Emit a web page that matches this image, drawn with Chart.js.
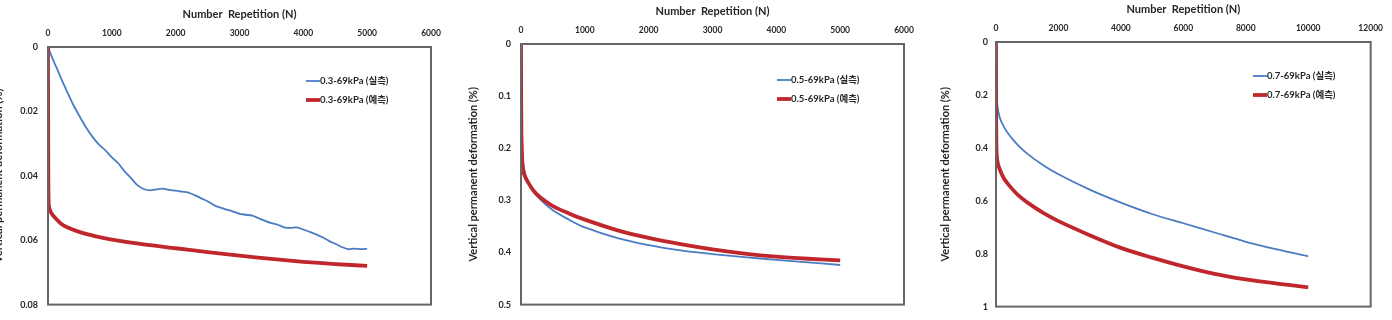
<!DOCTYPE html>
<html>
<head>
<meta charset="utf-8">
<script src="https://cdn.jsdelivr.net/npm/chart.js@4/dist/chart.umd.min.js"></script>
<style>
    html, body { margin: 0; padding: 0; background: #fff; overflow: hidden; }
    .panel { position: absolute; top: 0; height: 320px; }
</style>
</head>
<body>
<div class="panel" style="left:-8px;width:472px"><canvas id="c1"></canvas></div>
<div class="panel" style="left:464px;width:464px"><canvas id="c2"></canvas></div>
<div class="panel" style="left:928px;width:464px"><canvas id="c3"></canvas></div>
<script>
// Panel 1: 0.3-69kPa
const n1Measured = [0, 50, 100, 150, 200, 300, 400, 500, 600, 700, 800, 900, 1000, 1100, 1200, 1300, 1400, 1500, 1600, 1700, 1800, 1900, 2000, 2100, 2200, 2300, 2400, 2500, 2600, 2700, 2800, 2900, 3000, 3100, 3200, 3300, 3400, 3500, 3600, 3700, 3800, 3900, 4000, 4100, 4200, 4300, 4400, 4500, 4600, 4700, 4800, 4900, 5000];
const v1Measured = [0, 0.0025, 0.0049, 0.0071, 0.0095, 0.0139, 0.0181, 0.0217, 0.0251, 0.0280, 0.0303, 0.0321, 0.0343, 0.0361, 0.0386, 0.0407, 0.0429, 0.0441, 0.0445, 0.0442, 0.0440, 0.0444, 0.0446, 0.0449, 0.0452, 0.0460, 0.0470, 0.0479, 0.0491, 0.0499, 0.0505, 0.0511, 0.0518, 0.0521, 0.0524, 0.0532, 0.0540, 0.0547, 0.0552, 0.0560, 0.0562, 0.0560, 0.0567, 0.0574, 0.0582, 0.0591, 0.0602, 0.0611, 0.0621, 0.0628, 0.0626, 0.0628, 0.0626];
const n1Predicted = [0, 2, 5, 10, 20, 50, 100, 200, 300, 500, 750, 1000, 1500, 2000, 2500, 3000, 3500, 4000, 4500, 5000];
const v1Predicted = [0, 0.020, 0.040, 0.0485, 0.0500, 0.0515, 0.0528, 0.0548, 0.0560, 0.0575, 0.0588, 0.0598, 0.0613, 0.0625, 0.0637, 0.0648, 0.0658, 0.0667, 0.0674, 0.0680];

// Panel 2: 0.5-69kPa
const n2Measured = [5, 25, 50, 100, 200, 300, 500, 750, 1000, 1500, 2000, 2500, 3000, 3500, 4000, 4500, 5000];
const v2Measured = [0.19, 0.215, 0.240, 0.262, 0.283, 0.298, 0.319, 0.337, 0.352, 0.372, 0.386, 0.396, 0.403, 0.409, 0.414, 0.419, 0.424];
const n2Predicted = [0, 2, 5, 10, 25, 50, 100, 200, 300, 500, 750, 1000, 1500, 2000, 2500, 3000, 3500, 4000, 4500, 5000];
const v2Predicted = [0, 0.08, 0.15, 0.19, 0.235, 0.250, 0.263, 0.282, 0.294, 0.311, 0.325, 0.337, 0.357, 0.372, 0.384, 0.394, 0.402, 0.408, 0.412, 0.415];

// Panel 3: 0.7-69kPa
const n3Measured = [20, 50, 125, 250, 400, 700, 1000, 1500, 2000, 3000, 4000, 5000, 6000, 7000, 8000, 9000, 10000];
const v3Measured = [0.21, 0.245, 0.287, 0.320, 0.348, 0.390, 0.422, 0.465, 0.500, 0.558, 0.607, 0.650, 0.685, 0.720, 0.755, 0.784, 0.810];
const n3Predicted = [0, 3, 10, 20, 50, 125, 250, 400, 700, 1000, 1500, 2000, 3000, 4000, 5000, 6000, 7000, 8000, 9000, 10000];
const v3Predicted = [0, 0.20, 0.36, 0.42, 0.455, 0.483, 0.515, 0.539, 0.578, 0.606, 0.645, 0.677, 0.730, 0.778, 0.815, 0.848, 0.876, 0.897, 0.913, 0.927];

const xTitle = 'Number  Repetition (N)';
const yTitle = 'Vertical permanent deformation (%)';
const FONT = "Lato, 'Noto Sans CJK KR', sans-serif";
const TEXT = '#262626';
const BLUE = '#4a7cc2';
const RED = '#c0272d';

function points(ns, vs) {
    return ns.map((n, i) => ({ x: n, y: vs[i] }));
}

// frame round the plot area + legend inside it
const framePlugin = {
    id: 'frame',
    afterDraw(chart, args, opts) {
        const ctx = chart.ctx;
        const a = chart.chartArea;
        ctx.save();
        ctx.strokeStyle = '#666';
        ctx.lineWidth = 2;
        ctx.strokeRect(a.left, a.top, a.right - a.left, a.bottom - a.top);

        ctx.font = 'bold 9.5px ' + FONT;
        ctx.textBaseline = 'middle';
        ctx.fillStyle = TEXT;
        chart.data.datasets.forEach((ds, i) => {
            const y = opts.y + i * 19;
            ctx.strokeStyle = ds.borderColor;
            ctx.lineWidth = ds.borderWidth;
            ctx.beginPath();
            ctx.moveTo(opts.x, y);
            ctx.lineTo(opts.x + 14, y);
            ctx.stroke();
            ctx.fillText(ds.label, opts.x + 14, y);
        });
        ctx.restore();
    }
};

function makeChart(id, cfg) {
    const ctx = document.getElementById(id).getContext('2d');
    return new Chart(ctx, {
        type: 'line',
        data: {
            datasets: [
                {
                    label: cfg.name + ' (실측)',
                    data: points(cfg.nM, cfg.vM),
                    borderColor: BLUE,
                    borderWidth: 1.8,
                    pointRadius: 0,
                    tension: 0.3,
                    order: 1
                },
                {
                    label: cfg.name + ' (예측)',
                    data: points(cfg.nP, cfg.vP),
                    borderColor: RED,
                    borderWidth: 3.8,
                    pointRadius: 0,
                    tension: 0.3,
                    order: 0
                }
            ]
        },
        options: {
            responsive: true,
            maintainAspectRatio: false,
            animation: false,
            layout: { padding: { left: 0, top: 0, right: cfg.padRight, bottom: cfg.padBottom } },
            plugins: {
                legend: { display: false },
                tooltip: { enabled: false },
                frame: { x: cfg.legendX, y: cfg.legendY }
            },
            scales: {
                x: {
                    type: 'linear',
                    position: 'top',
                    min: 0,
                    max: cfg.xMax,
                    grid: { display: false, drawTicks: false },
                    border: { display: false },
                    ticks: {
                        stepSize: cfg.xStep,
                        padding: 9,
                        maxRotation: 0,
                        color: TEXT,
                        font: { family: FONT, size: 8.5, weight: 'bold' },
                        callback: v => String(v)
                    },
                    title: {
                        display: true,
                        text: xTitle,
                        color: TEXT,
                        padding: { top: cfg.xTitlePad, bottom: 0 },
                        font: { family: FONT, size: 11, weight: 'bold' }
                    },
                    afterFit(s) { s.height = cfg.top; }
                },
                y: {
                    type: 'linear',
                    reverse: true,
                    min: 0,
                    max: cfg.yMax,
                    grid: { display: false, drawTicks: false },
                    border: { display: false },
                    ticks: {
                        stepSize: cfg.yStep,
                        padding: cfg.yTickPad,
                        color: TEXT,
                        font: { family: FONT, size: 9, weight: 'bold' },
                        callback: v => String(Math.round(v * 100) / 100)
                    },
                    title: {
                        display: true,
                        text: yTitle,
                        color: TEXT,
                        padding: { top: cfg.yTitlePad, bottom: 0 },
                        font: { family: FONT, size: 11, weight: 'bold' }
                    },
                    afterFit(s) { s.width = cfg.left; }
                }
            }
        },
        plugins: [framePlugin]
    });
}

makeChart('c1', {
    name: '0.3-69kPa',
    nM: n1Measured, vM: v1Measured, nP: n1Predicted, vP: v1Predicted,
    xMax: 6000, xStep: 1000, yMax: 0.08, yStep: 0.02,
    left: 56, top: 47, padRight: 33, padBottom: 5,
    xTitlePad: 8, yTitlePad: 0, yTickPad: 10,
    legendX: 314, legendY: 81
});

makeChart('c2', {
    name: '0.5-69kPa',
    nM: n2Measured, vM: v2Measured, nP: n2Predicted, vP: v2Predicted,
    xMax: 6000, xStep: 1000, yMax: 0.5, yStep: 0.1,
    left: 57, top: 44, padRight: 24, padBottom: 5,
    xTitlePad: 5, yTitlePad: 3, yTickPad: 10,
    legendX: 313, legendY: 80
});

makeChart('c3', {
    name: '0.7-69kPa',
    nM: n3Measured, vM: v3Measured, nP: n3Predicted, vP: v3Predicted,
    xMax: 12000, xStep: 2000, yMax: 1, yStep: 0.2,
    left: 68, top: 42, padRight: 13, padBottom: 7,
    xTitlePad: 3, yTitlePad: 11, yTickPad: 8,
    legendX: 325, legendY: 76
});
</script>
</body>
</html>
